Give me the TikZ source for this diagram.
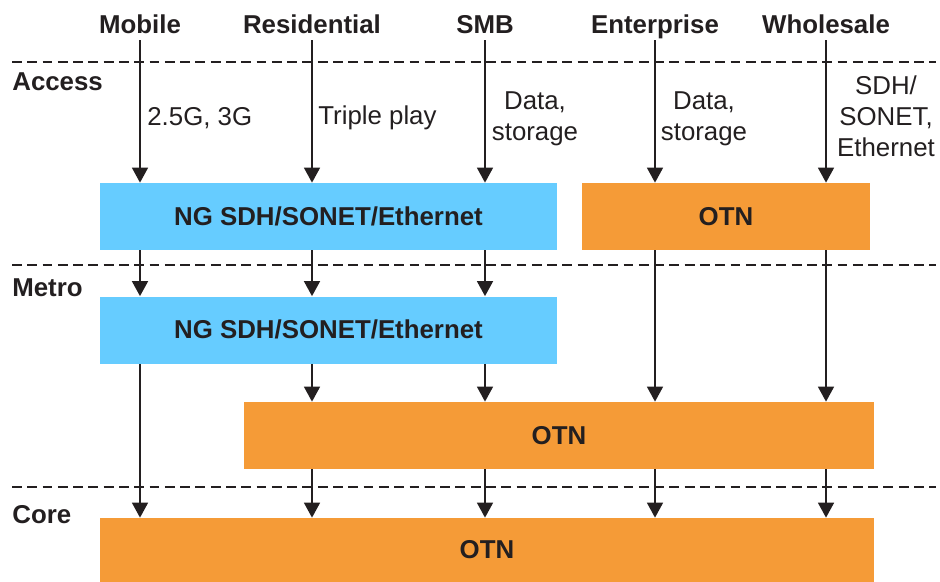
\documentclass[tikz,border=0pt]{standalone}
\usepackage{fontspec}
\setmainfont{Liberation Sans}
\usepackage{tikz}
\usetikzlibrary{arrows.meta}

\definecolor{ngblue}{RGB}{102,204,255}
\definecolor{otnorange}{RGB}{245,155,55}
\definecolor{inkgray}{RGB}{35,31,32}

\newcommand{\diagfont}{\fontsize{14.7}{17.6}\selectfont}

\tikzset{
  flow/.style={draw=inkgray, line width=1.1pt, -{Triangle[length=8.5pt,width=9pt]}},
  layerline/.style={draw=inkgray, line width=1.1pt, dash pattern=on 5.6pt off 3.1pt},
  netbox/.style={minimum height=1.34cm, inner sep=0pt, font=\diagfont\bfseries, text=inkgray, text height=0.99em, text depth=0pt},
  service/.style={anchor=base, font=\diagfont\bfseries, text=inkgray, inner sep=1pt, text height=0.75em, text depth=0.25em},
  layer/.style={anchor=base west, font=\diagfont\bfseries, text=inkgray, inner sep=0pt},
  note/.style={font=\diagfont, text=inkgray, inner sep=0pt, align=center}
}

\begin{document}
\begin{tikzpicture}
      \useasboundingbox (0,0) rectangle (18.8,-11.64);

      % layer borders
      \draw[layerline] (0.24,-1.24) -- (18.72,-1.24);
      \draw[layerline] (0.24,-5.3) -- (18.72,-5.3);
      \draw[layerline] (0.24,-9.74) -- (18.72,-9.74);

      \draw (0.24,-1.82) node[layer] (access) {Access};
      \draw (0.24,-5.92) node[layer] (metro) {Metro};
      \draw (0.24,-10.46) node[layer] (core) {Core};

      % services
      \draw (2.8,-0.68) node[service] (mob) {Mobile};
      \draw (6.24,-0.68) node[service] (res) {Residential};
      \draw (9.7,-0.68) node[service] (smb) {SMB};
      \draw (13.1,-0.68) node[service] (ent) {Enterprise};
      \draw (16.52,-0.68) node[service] (whs) {Wholesale};

      % networks
      \draw (6.57,-4.33) node[netbox, fill=ngblue, minimum width=9.14cm] (ngacc) {NG SDH/SONET/Ethernet};
      \draw (14.52,-4.33) node[netbox, fill=otnorange, minimum width=5.76cm] (otnacc) {OTN};
      \draw (6.57,-6.6) node[netbox, fill=ngblue, minimum width=9.14cm] (ngmet) {NG SDH/SONET/Ethernet};
      \draw (11.18,-8.71) node[netbox, fill=otnorange, minimum width=12.6cm] (otnmet) {OTN};
      \draw (9.74,-11.0) node[netbox, fill=otnorange, minimum width=15.48cm, minimum height=1.28cm] (otncore) {OTN};

      % access flows
      \draw[flow] (mob.south) -- (mob.south |- ngacc.north);
      \draw[flow] (res.south) -- (res.south |- ngacc.north);
      \draw[flow] (smb.south) -- (smb.south |- ngacc.north);
      \draw[flow] (ent.south) -- (ent.south |- otnacc.north);
      \draw[flow] (whs.south) -- (whs.south |- otnacc.north);

      \draw (2.94,-2.36) node[note, anchor=west] (mobnote) {2.5G, 3G};
      \draw (6.36,-2.36) node[note, anchor=west] (resnote) {Triple play};
      \draw (10.7,-2.38) node[note] (smbnote) {Data,\\storage};
      \draw (14.08,-2.38) node[note] (entnote) {Data,\\storage};
      \draw (17.72,-2.32) node[note] (whsnote) {SDH/\\SONET,\\Ethernet};

      % metro flows
      \draw[flow] (mob |- ngacc.south) -- (mob |- ngmet.north);
      \draw[flow] (res |- ngacc.south) -- (res |- ngmet.north);
      \draw[flow] (smb |- ngacc.south) -- (smb |- ngmet.north);
      \draw[flow] (res |- ngmet.south) -- (res |- otnmet.north);
      \draw[flow] (smb |- ngmet.south) -- (smb |- otnmet.north);
      \draw[flow] (ent |- otnacc.south) -- (ent |- otnmet.north);
      \draw[flow] (whs |- otnacc.south) -- (whs |- otnmet.north);

      % core flows
      \draw[flow] (mob |- ngmet.south) -- (mob |- otncore.north);
      \draw[flow] (res |- otnmet.south) -- (res |- otncore.north);
      \draw[flow] (smb |- otnmet.south) -- (smb |- otncore.north);
      \draw[flow] (ent |- otnmet.south) -- (ent |- otncore.north);
      \draw[flow] (whs |- otnmet.south) -- (whs |- otncore.north);
\end{tikzpicture}
\end{document}
